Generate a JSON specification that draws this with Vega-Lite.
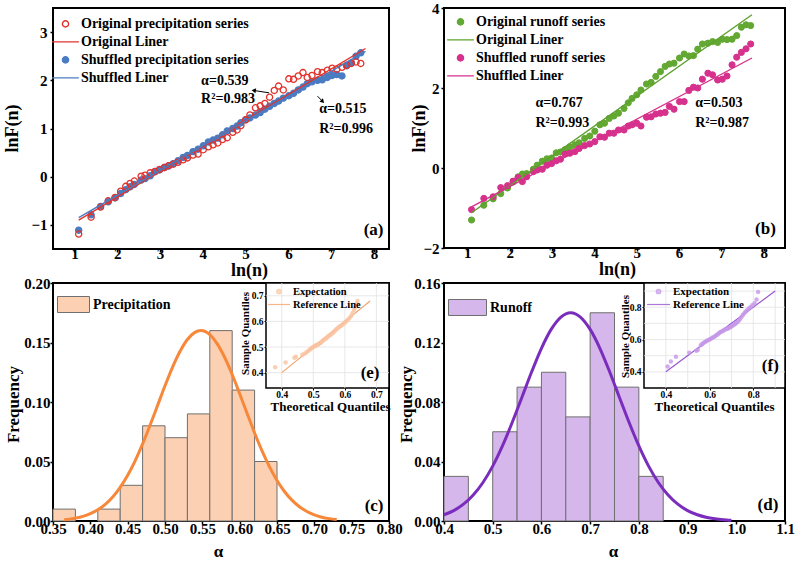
{
  "$schema": "https://vega.github.io/schema/vega-lite/v6.json",
  "background": "white",
  "padding": {"left": 2, "top": 0, "right": 0, "bottom": 0},
  "columns": 2,
  "spacing": {"row": 34, "column": 55},
  "bounds": "flush",
  "resolve": {
    "scale": {"stroke": "independent", "fill": "independent", "shape": "independent", "size": "independent"},
    "legend": {"stroke": "independent", "fill": "independent", "shape": "independent", "size": "independent"}
  },
  "config": {
    "font": "Liberation Serif",
    "view": {"stroke": "black", "strokeWidth": 2},
    "axis": {
      "domain": false, "grid": false,
      "labelFont": "Liberation Serif", "labelFontWeight": "bold", "labelFontSize": 15, "labelColor": "black",
      "labelFlush": false, "labelOverlap": false, "labelPadding": 1,
      "tickColor": "black", "tickWidth": 1.5, "tickSize": 3,
      "titleFont": "Liberation Serif", "titleFontWeight": "bold", "titleFontSize": 18, "titleColor": "black"
    },
    "legend": {"labelFont": "Liberation Serif", "labelFontWeight": "bold", "labelColor": "black", "labelFontSize": 14, "padding": 0, "labelLimit": 0},
    "text": {"font": "Liberation Serif", "fontWeight": "bold", "color": "black"}
  },
  "datasets": {
    "precipSeries": [
      {"series": "Shuffled precipitation series", "lnn": 1.10, "lnF": -1.11},
      {"series": "Shuffled precipitation series", "lnn": 1.39, "lnF": -0.79},
      {"series": "Shuffled precipitation series", "lnn": 1.61, "lnF": -0.62},
      {"series": "Shuffled precipitation series", "lnn": 1.79, "lnF": -0.52},
      {"series": "Shuffled precipitation series", "lnn": 1.95, "lnF": -0.44},
      {"series": "Shuffled precipitation series", "lnn": 2.08, "lnF": -0.35},
      {"series": "Shuffled precipitation series", "lnn": 2.20, "lnF": -0.27},
      {"series": "Shuffled precipitation series", "lnn": 2.30, "lnF": -0.21},
      {"series": "Shuffled precipitation series", "lnn": 2.40, "lnF": -0.16},
      {"series": "Shuffled precipitation series", "lnn": 2.56, "lnF": -0.07},
      {"series": "Shuffled precipitation series", "lnn": 2.65, "lnF": -0.04},
      {"series": "Shuffled precipitation series", "lnn": 2.77, "lnF": 0.02},
      {"series": "Shuffled precipitation series", "lnn": 2.88, "lnF": 0.10},
      {"series": "Shuffled precipitation series", "lnn": 2.99, "lnF": 0.14},
      {"series": "Shuffled precipitation series", "lnn": 3.10, "lnF": 0.19},
      {"series": "Shuffled precipitation series", "lnn": 3.20, "lnF": 0.22},
      {"series": "Shuffled precipitation series", "lnn": 3.31, "lnF": 0.27},
      {"series": "Shuffled precipitation series", "lnn": 3.42, "lnF": 0.33},
      {"series": "Shuffled precipitation series", "lnn": 3.54, "lnF": 0.40},
      {"series": "Shuffled precipitation series", "lnn": 3.64, "lnF": 0.44},
      {"series": "Shuffled precipitation series", "lnn": 3.77, "lnF": 0.52},
      {"series": "Shuffled precipitation series", "lnn": 3.89, "lnF": 0.57},
      {"series": "Shuffled precipitation series", "lnn": 4.01, "lnF": 0.64},
      {"series": "Shuffled precipitation series", "lnn": 4.13, "lnF": 0.72},
      {"series": "Shuffled precipitation series", "lnn": 4.24, "lnF": 0.76},
      {"series": "Shuffled precipitation series", "lnn": 4.35, "lnF": 0.80},
      {"series": "Shuffled precipitation series", "lnn": 4.46, "lnF": 0.87},
      {"series": "Shuffled precipitation series", "lnn": 4.57, "lnF": 0.95},
      {"series": "Shuffled precipitation series", "lnn": 4.70, "lnF": 1.00},
      {"series": "Shuffled precipitation series", "lnn": 4.80, "lnF": 1.05},
      {"series": "Shuffled precipitation series", "lnn": 4.89, "lnF": 1.12},
      {"series": "Shuffled precipitation series", "lnn": 5.00, "lnF": 1.18},
      {"series": "Shuffled precipitation series", "lnn": 5.10, "lnF": 1.22},
      {"series": "Shuffled precipitation series", "lnn": 5.23, "lnF": 1.28},
      {"series": "Shuffled precipitation series", "lnn": 5.34, "lnF": 1.33},
      {"series": "Shuffled precipitation series", "lnn": 5.45, "lnF": 1.40},
      {"series": "Shuffled precipitation series", "lnn": 5.56, "lnF": 1.46},
      {"series": "Shuffled precipitation series", "lnn": 5.67, "lnF": 1.52},
      {"series": "Shuffled precipitation series", "lnn": 5.77, "lnF": 1.57},
      {"series": "Shuffled precipitation series", "lnn": 5.88, "lnF": 1.63},
      {"series": "Shuffled precipitation series", "lnn": 6.01, "lnF": 1.68},
      {"series": "Shuffled precipitation series", "lnn": 6.12, "lnF": 1.73},
      {"series": "Shuffled precipitation series", "lnn": 6.23, "lnF": 1.80},
      {"series": "Shuffled precipitation series", "lnn": 6.34, "lnF": 1.86},
      {"series": "Shuffled precipitation series", "lnn": 6.44, "lnF": 1.93},
      {"series": "Shuffled precipitation series", "lnn": 6.55, "lnF": 1.97},
      {"series": "Shuffled precipitation series", "lnn": 6.68, "lnF": 2.00},
      {"series": "Shuffled precipitation series", "lnn": 6.79, "lnF": 2.01},
      {"series": "Shuffled precipitation series", "lnn": 6.91, "lnF": 2.06},
      {"series": "Shuffled precipitation series", "lnn": 7.02, "lnF": 2.10},
      {"series": "Shuffled precipitation series", "lnn": 7.13, "lnF": 2.12},
      {"series": "Shuffled precipitation series", "lnn": 7.25, "lnF": 2.09},
      {"series": "Shuffled precipitation series", "lnn": 7.36, "lnF": 2.30},
      {"series": "Shuffled precipitation series", "lnn": 7.47, "lnF": 2.36},
      {"series": "Shuffled precipitation series", "lnn": 7.58, "lnF": 2.50},
      {"series": "Shuffled precipitation series", "lnn": 7.69, "lnF": 2.57},
      {"series": "Original precipitation series", "lnn": 1.10, "lnF": -1.19},
      {"series": "Original precipitation series", "lnn": 1.39, "lnF": -0.84},
      {"series": "Original precipitation series", "lnn": 1.61, "lnF": -0.63},
      {"series": "Original precipitation series", "lnn": 1.79, "lnF": -0.50},
      {"series": "Original precipitation series", "lnn": 1.95, "lnF": -0.43},
      {"series": "Original precipitation series", "lnn": 2.08, "lnF": -0.30},
      {"series": "Original precipitation series", "lnn": 2.20, "lnF": -0.20},
      {"series": "Original precipitation series", "lnn": 2.30, "lnF": -0.14},
      {"series": "Original precipitation series", "lnn": 2.40, "lnF": -0.09},
      {"series": "Original precipitation series", "lnn": 2.56, "lnF": 0.01},
      {"series": "Original precipitation series", "lnn": 2.65, "lnF": 0.03},
      {"series": "Original precipitation series", "lnn": 2.77, "lnF": 0.08},
      {"series": "Original precipitation series", "lnn": 2.88, "lnF": 0.11},
      {"series": "Original precipitation series", "lnn": 2.99, "lnF": 0.15},
      {"series": "Original precipitation series", "lnn": 3.10, "lnF": 0.19},
      {"series": "Original precipitation series", "lnn": 3.20, "lnF": 0.23},
      {"series": "Original precipitation series", "lnn": 3.31, "lnF": 0.26},
      {"series": "Original precipitation series", "lnn": 3.42, "lnF": 0.30},
      {"series": "Original precipitation series", "lnn": 3.54, "lnF": 0.35},
      {"series": "Original precipitation series", "lnn": 3.64, "lnF": 0.39},
      {"series": "Original precipitation series", "lnn": 3.77, "lnF": 0.45},
      {"series": "Original precipitation series", "lnn": 3.89, "lnF": 0.47},
      {"series": "Original precipitation series", "lnn": 4.01, "lnF": 0.56},
      {"series": "Original precipitation series", "lnn": 4.13, "lnF": 0.62},
      {"series": "Original precipitation series", "lnn": 4.24, "lnF": 0.66},
      {"series": "Original precipitation series", "lnn": 4.35, "lnF": 0.70},
      {"series": "Original precipitation series", "lnn": 4.46, "lnF": 0.77},
      {"series": "Original precipitation series", "lnn": 4.57, "lnF": 0.81},
      {"series": "Original precipitation series", "lnn": 4.70, "lnF": 0.92},
      {"series": "Original precipitation series", "lnn": 4.80, "lnF": 0.97},
      {"series": "Original precipitation series", "lnn": 4.89, "lnF": 1.06},
      {"series": "Original precipitation series", "lnn": 5.00, "lnF": 1.18},
      {"series": "Original precipitation series", "lnn": 5.10, "lnF": 1.28},
      {"series": "Original precipitation series", "lnn": 5.23, "lnF": 1.43},
      {"series": "Original precipitation series", "lnn": 5.34, "lnF": 1.47},
      {"series": "Original precipitation series", "lnn": 5.45, "lnF": 1.52},
      {"series": "Original precipitation series", "lnn": 5.56, "lnF": 1.65},
      {"series": "Original precipitation series", "lnn": 5.67, "lnF": 1.79},
      {"series": "Original precipitation series", "lnn": 5.77, "lnF": 1.88},
      {"series": "Original precipitation series", "lnn": 5.88, "lnF": 1.80},
      {"series": "Original precipitation series", "lnn": 6.01, "lnF": 2.03},
      {"series": "Original precipitation series", "lnn": 6.12, "lnF": 2.02},
      {"series": "Original precipitation series", "lnn": 6.23, "lnF": 2.09},
      {"series": "Original precipitation series", "lnn": 6.34, "lnF": 2.16},
      {"series": "Original precipitation series", "lnn": 6.44, "lnF": 2.06},
      {"series": "Original precipitation series", "lnn": 6.55, "lnF": 2.10},
      {"series": "Original precipitation series", "lnn": 6.68, "lnF": 2.18},
      {"series": "Original precipitation series", "lnn": 6.79, "lnF": 2.16},
      {"series": "Original precipitation series", "lnn": 6.91, "lnF": 2.21},
      {"series": "Original precipitation series", "lnn": 7.02, "lnF": 2.25},
      {"series": "Original precipitation series", "lnn": 7.13, "lnF": 2.23},
      {"series": "Original precipitation series", "lnn": 7.25, "lnF": 2.27},
      {"series": "Original precipitation series", "lnn": 7.36, "lnF": 2.31},
      {"series": "Original precipitation series", "lnn": 7.47, "lnF": 2.35},
      {"series": "Original precipitation series", "lnn": 7.58, "lnF": 2.38},
      {"series": "Original precipitation series", "lnn": 7.69, "lnF": 2.35}
    ],
    "precipFit": [
      {"series": "Original Liner", "lnn": 1.1, "lnF": -0.90},
      {"series": "Original Liner", "lnn": 7.8, "lnF": 2.66},
      {"series": "Shuffled Liner", "lnn": 1.1, "lnF": -0.85},
      {"series": "Shuffled Liner", "lnn": 7.8, "lnF": 2.60}
    ],
    "runoffSeries": [
      {"series": "Original runoff series", "lnn": 1.10, "lnF": -1.30},
      {"series": "Original runoff series", "lnn": 1.39, "lnF": -0.93},
      {"series": "Original runoff series", "lnn": 1.61, "lnF": -0.77},
      {"series": "Original runoff series", "lnn": 1.79, "lnF": -0.64},
      {"series": "Original runoff series", "lnn": 1.95, "lnF": -0.50},
      {"series": "Original runoff series", "lnn": 2.08, "lnF": -0.35},
      {"series": "Original runoff series", "lnn": 2.20, "lnF": -0.22},
      {"series": "Original runoff series", "lnn": 2.30, "lnF": -0.15},
      {"series": "Original runoff series", "lnn": 2.40, "lnF": -0.14},
      {"series": "Original runoff series", "lnn": 2.56, "lnF": -0.03},
      {"series": "Original runoff series", "lnn": 2.65, "lnF": 0.07},
      {"series": "Original runoff series", "lnn": 2.77, "lnF": 0.17},
      {"series": "Original runoff series", "lnn": 2.88, "lnF": 0.23},
      {"series": "Original runoff series", "lnn": 2.99, "lnF": 0.25},
      {"series": "Original runoff series", "lnn": 3.10, "lnF": 0.38},
      {"series": "Original runoff series", "lnn": 3.20, "lnF": 0.40},
      {"series": "Original runoff series", "lnn": 3.31, "lnF": 0.46},
      {"series": "Original runoff series", "lnn": 3.42, "lnF": 0.53},
      {"series": "Original runoff series", "lnn": 3.54, "lnF": 0.58},
      {"series": "Original runoff series", "lnn": 3.64, "lnF": 0.63},
      {"series": "Original runoff series", "lnn": 3.77, "lnF": 0.74},
      {"series": "Original runoff series", "lnn": 3.89, "lnF": 0.80},
      {"series": "Original runoff series", "lnn": 4.01, "lnF": 0.92},
      {"series": "Original runoff series", "lnn": 4.13, "lnF": 1.08},
      {"series": "Original runoff series", "lnn": 4.24, "lnF": 1.12},
      {"series": "Original runoff series", "lnn": 4.35, "lnF": 1.24},
      {"series": "Original runoff series", "lnn": 4.46, "lnF": 1.30},
      {"series": "Original runoff series", "lnn": 4.57, "lnF": 1.37},
      {"series": "Original runoff series", "lnn": 4.70, "lnF": 1.49},
      {"series": "Original runoff series", "lnn": 4.80, "lnF": 1.63},
      {"series": "Original runoff series", "lnn": 4.89, "lnF": 1.74},
      {"series": "Original runoff series", "lnn": 5.00, "lnF": 1.83},
      {"series": "Original runoff series", "lnn": 5.10, "lnF": 1.95},
      {"series": "Original runoff series", "lnn": 5.23, "lnF": 2.10},
      {"series": "Original runoff series", "lnn": 5.34, "lnF": 2.14},
      {"series": "Original runoff series", "lnn": 5.45, "lnF": 2.29},
      {"series": "Original runoff series", "lnn": 5.56, "lnF": 2.41},
      {"series": "Original runoff series", "lnn": 5.67, "lnF": 2.54},
      {"series": "Original runoff series", "lnn": 5.77, "lnF": 2.60},
      {"series": "Original runoff series", "lnn": 5.88, "lnF": 2.62},
      {"series": "Original runoff series", "lnn": 6.01, "lnF": 2.75},
      {"series": "Original runoff series", "lnn": 6.12, "lnF": 2.85},
      {"series": "Original runoff series", "lnn": 6.23, "lnF": 2.80},
      {"series": "Original runoff series", "lnn": 6.34, "lnF": 2.81},
      {"series": "Original runoff series", "lnn": 6.44, "lnF": 2.97},
      {"series": "Original runoff series", "lnn": 6.55, "lnF": 3.10},
      {"series": "Original runoff series", "lnn": 6.68, "lnF": 3.12},
      {"series": "Original runoff series", "lnn": 6.79, "lnF": 3.16},
      {"series": "Original runoff series", "lnn": 6.91, "lnF": 3.14},
      {"series": "Original runoff series", "lnn": 7.02, "lnF": 3.22},
      {"series": "Original runoff series", "lnn": 7.13, "lnF": 3.21},
      {"series": "Original runoff series", "lnn": 7.25, "lnF": 3.22},
      {"series": "Original runoff series", "lnn": 7.36, "lnF": 3.31},
      {"series": "Original runoff series", "lnn": 7.47, "lnF": 3.52},
      {"series": "Original runoff series", "lnn": 7.58, "lnF": 3.58},
      {"series": "Original runoff series", "lnn": 7.69, "lnF": 3.56},
      {"series": "Shuffled runoff series", "lnn": 1.10, "lnF": -1.04},
      {"series": "Shuffled runoff series", "lnn": 1.39, "lnF": -0.76},
      {"series": "Shuffled runoff series", "lnn": 1.61, "lnF": -0.72},
      {"series": "Shuffled runoff series", "lnn": 1.79, "lnF": -0.49},
      {"series": "Shuffled runoff series", "lnn": 1.95, "lnF": -0.44},
      {"series": "Shuffled runoff series", "lnn": 2.08, "lnF": -0.33},
      {"series": "Shuffled runoff series", "lnn": 2.20, "lnF": -0.24},
      {"series": "Shuffled runoff series", "lnn": 2.30, "lnF": -0.34},
      {"series": "Shuffled runoff series", "lnn": 2.40, "lnF": -0.22},
      {"series": "Shuffled runoff series", "lnn": 2.56, "lnF": -0.09},
      {"series": "Shuffled runoff series", "lnn": 2.65, "lnF": -0.05},
      {"series": "Shuffled runoff series", "lnn": 2.77, "lnF": -0.03},
      {"series": "Shuffled runoff series", "lnn": 2.88, "lnF": 0.07},
      {"series": "Shuffled runoff series", "lnn": 2.99, "lnF": 0.11},
      {"series": "Shuffled runoff series", "lnn": 3.10, "lnF": 0.18},
      {"series": "Shuffled runoff series", "lnn": 3.20, "lnF": 0.22},
      {"series": "Shuffled runoff series", "lnn": 3.31, "lnF": 0.35},
      {"series": "Shuffled runoff series", "lnn": 3.42, "lnF": 0.37},
      {"series": "Shuffled runoff series", "lnn": 3.54, "lnF": 0.41},
      {"series": "Shuffled runoff series", "lnn": 3.64, "lnF": 0.49},
      {"series": "Shuffled runoff series", "lnn": 3.77, "lnF": 0.56},
      {"series": "Shuffled runoff series", "lnn": 3.89, "lnF": 0.60},
      {"series": "Shuffled runoff series", "lnn": 4.01, "lnF": 0.66},
      {"series": "Shuffled runoff series", "lnn": 4.13, "lnF": 0.78},
      {"series": "Shuffled runoff series", "lnn": 4.24, "lnF": 0.77},
      {"series": "Shuffled runoff series", "lnn": 4.35, "lnF": 0.87},
      {"series": "Shuffled runoff series", "lnn": 4.46, "lnF": 0.87},
      {"series": "Shuffled runoff series", "lnn": 4.57, "lnF": 0.95},
      {"series": "Shuffled runoff series", "lnn": 4.70, "lnF": 0.95},
      {"series": "Shuffled runoff series", "lnn": 4.80, "lnF": 1.05},
      {"series": "Shuffled runoff series", "lnn": 4.89, "lnF": 1.08},
      {"series": "Shuffled runoff series", "lnn": 5.00, "lnF": 1.12},
      {"series": "Shuffled runoff series", "lnn": 5.10, "lnF": 1.05},
      {"series": "Shuffled runoff series", "lnn": 5.23, "lnF": 1.27},
      {"series": "Shuffled runoff series", "lnn": 5.34, "lnF": 1.28},
      {"series": "Shuffled runoff series", "lnn": 5.45, "lnF": 1.35},
      {"series": "Shuffled runoff series", "lnn": 5.56, "lnF": 1.37},
      {"series": "Shuffled runoff series", "lnn": 5.67, "lnF": 1.39},
      {"series": "Shuffled runoff series", "lnn": 5.77, "lnF": 1.54},
      {"series": "Shuffled runoff series", "lnn": 5.88, "lnF": 1.47},
      {"series": "Shuffled runoff series", "lnn": 6.01, "lnF": 1.66},
      {"series": "Shuffled runoff series", "lnn": 6.12, "lnF": 1.66},
      {"series": "Shuffled runoff series", "lnn": 6.23, "lnF": 1.94},
      {"series": "Shuffled runoff series", "lnn": 6.34, "lnF": 2.02},
      {"series": "Shuffled runoff series", "lnn": 6.44, "lnF": 2.00},
      {"series": "Shuffled runoff series", "lnn": 6.55, "lnF": 2.22},
      {"series": "Shuffled runoff series", "lnn": 6.68, "lnF": 2.37},
      {"series": "Shuffled runoff series", "lnn": 6.79, "lnF": 2.33},
      {"series": "Shuffled runoff series", "lnn": 6.91, "lnF": 2.20},
      {"series": "Shuffled runoff series", "lnn": 7.02, "lnF": 2.22},
      {"series": "Shuffled runoff series", "lnn": 7.13, "lnF": 2.30},
      {"series": "Shuffled runoff series", "lnn": 7.25, "lnF": 2.58},
      {"series": "Shuffled runoff series", "lnn": 7.36, "lnF": 2.77},
      {"series": "Shuffled runoff series", "lnn": 7.47, "lnF": 2.89},
      {"series": "Shuffled runoff series", "lnn": 7.58, "lnF": 2.98},
      {"series": "Shuffled runoff series", "lnn": 7.69, "lnF": 3.10}
    ],
    "runoffFit": [
      {"series": "Original Liner", "lnn": 1.1, "lnF": -1.12},
      {"series": "Original Liner", "lnn": 7.72, "lnF": 3.83},
      {"series": "Shuffled Liner", "lnn": 1.1, "lnF": -0.97},
      {"series": "Shuffled Liner", "lnn": 7.72, "lnF": 2.75}
    ],
    "precipHist": [
      {"kind": "Precipitation", "lo": 0.35, "hi": 0.38, "freq": 0.01},
      {"kind": "Precipitation", "lo": 0.41, "hi": 0.44, "freq": 0.01},
      {"kind": "Precipitation", "lo": 0.44, "hi": 0.47, "freq": 0.03},
      {"kind": "Precipitation", "lo": 0.47, "hi": 0.50, "freq": 0.08},
      {"kind": "Precipitation", "lo": 0.50, "hi": 0.53, "freq": 0.07},
      {"kind": "Precipitation", "lo": 0.53, "hi": 0.56, "freq": 0.09},
      {"kind": "Precipitation", "lo": 0.56, "hi": 0.59, "freq": 0.16},
      {"kind": "Precipitation", "lo": 0.59, "hi": 0.62, "freq": 0.11},
      {"kind": "Precipitation", "lo": 0.62, "hi": 0.65, "freq": 0.05}
    ],
    "precipCurve": [
      {"a": 0.365, "f": 0.0011}, {"a": 0.38, "f": 0.0024}, {"a": 0.39, "f": 0.0039}, {"a": 0.40, "f": 0.0062},
      {"a": 0.41, "f": 0.0094}, {"a": 0.42, "f": 0.0140}, {"a": 0.43, "f": 0.0202}, {"a": 0.44, "f": 0.0283},
      {"a": 0.45, "f": 0.0384}, {"a": 0.46, "f": 0.0506}, {"a": 0.47, "f": 0.0648}, {"a": 0.48, "f": 0.0805},
      {"a": 0.49, "f": 0.0970}, {"a": 0.50, "f": 0.1136}, {"a": 0.51, "f": 0.1291}, {"a": 0.52, "f": 0.1424},
      {"a": 0.53, "f": 0.1525}, {"a": 0.54, "f": 0.1585}, {"a": 0.548, "f": 0.1600}, {"a": 0.56, "f": 0.1566},
      {"a": 0.57, "f": 0.1489}, {"a": 0.58, "f": 0.1374}, {"a": 0.59, "f": 0.1231}, {"a": 0.60, "f": 0.1070},
      {"a": 0.61, "f": 0.0904}, {"a": 0.62, "f": 0.0740}, {"a": 0.63, "f": 0.0589}, {"a": 0.64, "f": 0.0455},
      {"a": 0.65, "f": 0.0341}, {"a": 0.66, "f": 0.0248}, {"a": 0.67, "f": 0.0175}, {"a": 0.68, "f": 0.0120},
      {"a": 0.69, "f": 0.0080}, {"a": 0.70, "f": 0.0052}, {"a": 0.71, "f": 0.0032}, {"a": 0.72, "f": 0.0020},
      {"a": 0.73, "f": 0.0012}
    ],
    "precipQQ": [
      {"qq": "Expectation", "tq": 0.379, "sq": 0.421}, {"qq": "Expectation", "tq": 0.412, "sq": 0.440},
      {"qq": "Expectation", "tq": 0.440, "sq": 0.458}, {"qq": "Expectation", "tq": 0.445, "sq": 0.462},
      {"qq": "Expectation", "tq": 0.465, "sq": 0.470}, {"qq": "Expectation", "tq": 0.472, "sq": 0.474},
      {"qq": "Expectation", "tq": 0.478, "sq": 0.479}, {"qq": "Expectation", "tq": 0.483, "sq": 0.484},
      {"qq": "Expectation", "tq": 0.488, "sq": 0.489}, {"qq": "Expectation", "tq": 0.492, "sq": 0.493},
      {"qq": "Expectation", "tq": 0.496, "sq": 0.497}, {"qq": "Expectation", "tq": 0.500, "sq": 0.500},
      {"qq": "Expectation", "tq": 0.504, "sq": 0.503}, {"qq": "Expectation", "tq": 0.507, "sq": 0.506},
      {"qq": "Expectation", "tq": 0.511, "sq": 0.508}, {"qq": "Expectation", "tq": 0.515, "sq": 0.510},
      {"qq": "Expectation", "tq": 0.518, "sq": 0.513}, {"qq": "Expectation", "tq": 0.522, "sq": 0.516},
      {"qq": "Expectation", "tq": 0.525, "sq": 0.519}, {"qq": "Expectation", "tq": 0.529, "sq": 0.523},
      {"qq": "Expectation", "tq": 0.532, "sq": 0.527}, {"qq": "Expectation", "tq": 0.536, "sq": 0.530},
      {"qq": "Expectation", "tq": 0.540, "sq": 0.533}, {"qq": "Expectation", "tq": 0.543, "sq": 0.537},
      {"qq": "Expectation", "tq": 0.547, "sq": 0.541}, {"qq": "Expectation", "tq": 0.551, "sq": 0.545},
      {"qq": "Expectation", "tq": 0.555, "sq": 0.548}, {"qq": "Expectation", "tq": 0.558, "sq": 0.552},
      {"qq": "Expectation", "tq": 0.562, "sq": 0.556}, {"qq": "Expectation", "tq": 0.566, "sq": 0.561},
      {"qq": "Expectation", "tq": 0.570, "sq": 0.565}, {"qq": "Expectation", "tq": 0.574, "sq": 0.570},
      {"qq": "Expectation", "tq": 0.578, "sq": 0.574}, {"qq": "Expectation", "tq": 0.582, "sq": 0.578},
      {"qq": "Expectation", "tq": 0.586, "sq": 0.582}, {"qq": "Expectation", "tq": 0.590, "sq": 0.585},
      {"qq": "Expectation", "tq": 0.595, "sq": 0.590}, {"qq": "Expectation", "tq": 0.600, "sq": 0.596},
      {"qq": "Expectation", "tq": 0.604, "sq": 0.600}, {"qq": "Expectation", "tq": 0.609, "sq": 0.606},
      {"qq": "Expectation", "tq": 0.614, "sq": 0.612}, {"qq": "Expectation", "tq": 0.619, "sq": 0.620},
      {"qq": "Expectation", "tq": 0.624, "sq": 0.632}, {"qq": "Expectation", "tq": 0.629, "sq": 0.645},
      {"qq": "Expectation", "tq": 0.633, "sq": 0.655}, {"qq": "Expectation", "tq": 0.638, "sq": 0.668},
      {"qq": "Expectation", "tq": 0.640, "sq": 0.680}
    ],
    "precipRef": [
      {"qq": "Reference Line", "tq": 0.40, "sq": 0.40},
      {"qq": "Reference Line", "tq": 0.68, "sq": 0.68}
    ],
    "runoffHist": [
      {"kind": "Runoff", "lo": 0.40, "hi": 0.45, "freq": 0.03},
      {"kind": "Runoff", "lo": 0.50, "hi": 0.55, "freq": 0.06},
      {"kind": "Runoff", "lo": 0.55, "hi": 0.60, "freq": 0.09},
      {"kind": "Runoff", "lo": 0.60, "hi": 0.65, "freq": 0.10},
      {"kind": "Runoff", "lo": 0.65, "hi": 0.70, "freq": 0.07},
      {"kind": "Runoff", "lo": 0.70, "hi": 0.75, "freq": 0.14},
      {"kind": "Runoff", "lo": 0.75, "hi": 0.80, "freq": 0.09},
      {"kind": "Runoff", "lo": 0.80, "hi": 0.85, "freq": 0.03}
    ],
    "runoffCurve": [
      {"a": 0.40, "f": 0.0042}, {"a": 0.42, "f": 0.0070}, {"a": 0.44, "f": 0.0113}, {"a": 0.46, "f": 0.0175},
      {"a": 0.48, "f": 0.0259}, {"a": 0.50, "f": 0.0369}, {"a": 0.52, "f": 0.0505}, {"a": 0.54, "f": 0.0662},
      {"a": 0.56, "f": 0.0832}, {"a": 0.58, "f": 0.1003}, {"a": 0.60, "f": 0.1161}, {"a": 0.62, "f": 0.1288},
      {"a": 0.64, "f": 0.1371}, {"a": 0.66, "f": 0.1400}, {"a": 0.68, "f": 0.1371}, {"a": 0.70, "f": 0.1288},
      {"a": 0.72, "f": 0.1161}, {"a": 0.74, "f": 0.1003}, {"a": 0.76, "f": 0.0832}, {"a": 0.78, "f": 0.0662},
      {"a": 0.80, "f": 0.0505}, {"a": 0.82, "f": 0.0369}, {"a": 0.84, "f": 0.0259}, {"a": 0.86, "f": 0.0175},
      {"a": 0.88, "f": 0.0113}, {"a": 0.90, "f": 0.0070}, {"a": 0.92, "f": 0.0042}, {"a": 0.94, "f": 0.0024},
      {"a": 0.96, "f": 0.0013}, {"a": 0.98, "f": 0.0007}, {"a": 0.99, "f": 0.0005}
    ],
    "runoffQQ": [
      {"qq": "Expectation", "tq": 0.408, "sq": 0.433}, {"qq": "Expectation", "tq": 0.423, "sq": 0.464},
      {"qq": "Expectation", "tq": 0.446, "sq": 0.494}, {"qq": "Expectation", "tq": 0.507, "sq": 0.519},
      {"qq": "Expectation", "tq": 0.540, "sq": 0.530}, {"qq": "Expectation", "tq": 0.546, "sq": 0.537},
      {"qq": "Expectation", "tq": 0.560, "sq": 0.565}, {"qq": "Expectation", "tq": 0.566, "sq": 0.572},
      {"qq": "Expectation", "tq": 0.572, "sq": 0.578}, {"qq": "Expectation", "tq": 0.578, "sq": 0.584},
      {"qq": "Expectation", "tq": 0.584, "sq": 0.590}, {"qq": "Expectation", "tq": 0.590, "sq": 0.594},
      {"qq": "Expectation", "tq": 0.596, "sq": 0.598}, {"qq": "Expectation", "tq": 0.602, "sq": 0.602},
      {"qq": "Expectation", "tq": 0.608, "sq": 0.606}, {"qq": "Expectation", "tq": 0.614, "sq": 0.612},
      {"qq": "Expectation", "tq": 0.620, "sq": 0.615}, {"qq": "Expectation", "tq": 0.626, "sq": 0.622},
      {"qq": "Expectation", "tq": 0.632, "sq": 0.628}, {"qq": "Expectation", "tq": 0.638, "sq": 0.633},
      {"qq": "Expectation", "tq": 0.644, "sq": 0.640}, {"qq": "Expectation", "tq": 0.650, "sq": 0.646},
      {"qq": "Expectation", "tq": 0.656, "sq": 0.650}, {"qq": "Expectation", "tq": 0.662, "sq": 0.655},
      {"qq": "Expectation", "tq": 0.668, "sq": 0.660}, {"qq": "Expectation", "tq": 0.674, "sq": 0.664},
      {"qq": "Expectation", "tq": 0.680, "sq": 0.667}, {"qq": "Expectation", "tq": 0.686, "sq": 0.670},
      {"qq": "Expectation", "tq": 0.692, "sq": 0.674}, {"qq": "Expectation", "tq": 0.698, "sq": 0.679},
      {"qq": "Expectation", "tq": 0.704, "sq": 0.685}, {"qq": "Expectation", "tq": 0.710, "sq": 0.690},
      {"qq": "Expectation", "tq": 0.716, "sq": 0.696}, {"qq": "Expectation", "tq": 0.722, "sq": 0.703},
      {"qq": "Expectation", "tq": 0.728, "sq": 0.710}, {"qq": "Expectation", "tq": 0.734, "sq": 0.718},
      {"qq": "Expectation", "tq": 0.740, "sq": 0.728}, {"qq": "Expectation", "tq": 0.746, "sq": 0.740},
      {"qq": "Expectation", "tq": 0.752, "sq": 0.752}, {"qq": "Expectation", "tq": 0.758, "sq": 0.762},
      {"qq": "Expectation", "tq": 0.764, "sq": 0.772}, {"qq": "Expectation", "tq": 0.770, "sq": 0.780},
      {"qq": "Expectation", "tq": 0.778, "sq": 0.790}, {"qq": "Expectation", "tq": 0.786, "sq": 0.800},
      {"qq": "Expectation", "tq": 0.795, "sq": 0.812}, {"qq": "Expectation", "tq": 0.806, "sq": 0.825},
      {"qq": "Expectation", "tq": 0.815, "sq": 0.848}, {"qq": "Expectation", "tq": 0.822, "sq": 0.895}
    ],
    "runoffRef": [
      {"qq": "Reference Line", "tq": 0.40, "sq": 0.40},
      {"qq": "Reference Line", "tq": 0.90, "sq": 0.90}
    ],
    "gridE": [{"g": 0.4}, {"g": 0.5}, {"g": 0.6}, {"g": 0.7}],
    "gridF": [{"g": 0.4}, {"g": 0.5}, {"g": 0.6}, {"g": 0.7}, {"g": 0.8}, {"g": 0.9}]
  },
  "concat": [
    {
      "width": 336, "height": 241,
      "layer": [
        {
          "data": {"name": "precipSeries"},
          "mark": {"type": "point", "filled": true, "opacity": 1, "strokeWidth": 1.3},
          "encoding": {
            "x": {"field": "lnn", "type": "quantitative", "scale": {"domain": [0.5, 8.35], "nice": false, "zero": false},
                  "axis": {"orient": "bottom", "values": [1, 2, 3, 4, 5, 6, 7, 8], "title": "ln(n)", "labelPadding": -6, "labelOverlap": false,
                           "titleX": 196, "titleY": 21.5, "titleBaseline": "middle"}},
            "y": {"field": "lnF", "type": "quantitative", "scale": {"domain": [-1.5, 3.5], "nice": false, "zero": false},
                  "axis": {"orient": "left", "values": [-1, 0, 1, 2, 3], "title": "lnF(n)", "labelPadding": 3,
                           "titleX": -41, "titleY": 120, "titleBaseline": "middle"}},
            "stroke": {"field": "series", "type": "nominal",
                       "scale": {"domain": ["Original precipitation series", "Original Liner", "Shuffled precipitation series", "Shuffled Liner"],
                                 "range": ["#e4322b", "#e4322b", "#4a7cc2", "#4a7cc2"]},
                       "legend": {"orient": "none", "legendX": -2, "legendY": 7, "title": null, "labelOffset": 1, "rowPadding": 0, "clipHeight": 17.8, "symbolStrokeWidth": 1.4}},
            "fill": {"field": "series", "type": "nominal",
                     "scale": {"domain": ["Original precipitation series", "Original Liner", "Shuffled precipitation series", "Shuffled Liner"],
                               "range": ["transparent", "transparent", "#4a7cc2", "transparent"]},
                     "legend": {"orient": "none", "legendX": -2, "legendY": 7, "title": null, "labelOffset": 1, "rowPadding": 0, "clipHeight": 17.8, "symbolStrokeWidth": 1.4}},
            "shape": {"field": "series", "type": "nominal",
                      "scale": {"domain": ["Original precipitation series", "Original Liner", "Shuffled precipitation series", "Shuffled Liner"],
                                "range": ["circle", "stroke", "circle", "stroke"]},
                      "legend": {"orient": "none", "legendX": -2, "legendY": 7, "title": null, "labelOffset": 1, "rowPadding": 0, "clipHeight": 17.8, "symbolStrokeWidth": 1.4}},
            "size": {"field": "series", "type": "nominal",
                     "scale": {"type": "ordinal", "domain": ["Original precipitation series", "Original Liner", "Shuffled precipitation series", "Shuffled Liner"],
                               "range": [38, 713, 38, 713]},
                     "legend": {"orient": "none", "legendX": -2, "legendY": 7, "title": null, "labelOffset": 1, "rowPadding": 0, "clipHeight": 17.8, "symbolStrokeWidth": 1.4}}
          }
        },
        {
          "data": {"name": "precipFit"},
          "mark": {"type": "line", "strokeWidth": 1.4},
          "encoding": {
            "x": {"field": "lnn", "type": "quantitative"},
            "y": {"field": "lnF", "type": "quantitative"},
            "stroke": {"field": "series", "type": "nominal",
                       "legend": {"orient": "none", "legendX": -2, "legendY": 7, "title": null, "labelOffset": 1, "rowPadding": 0, "clipHeight": 17.8, "symbolStrokeWidth": 1.4}}
          }
        },
        {"data": {"values": [{}]}, "mark": {"type": "text", "text": "α=0.539", "align": "left", "baseline": "middle", "fontSize": 14},
         "encoding": {"x": {"datum": 3.96}, "y": {"datum": 1.99}}},
        {"data": {"values": [{}]}, "mark": {"type": "text", "text": "R²=0.983", "align": "left", "baseline": "middle", "fontSize": 14},
         "encoding": {"x": {"datum": 3.96}, "y": {"datum": 1.61}}},
        {"data": {"values": [{}]}, "mark": {"type": "text", "text": "α=0.515", "align": "left", "baseline": "middle", "fontSize": 14},
         "encoding": {"x": {"datum": 6.72}, "y": {"datum": 1.40}}},
        {"data": {"values": [{}]}, "mark": {"type": "text", "text": "R²=0.996", "align": "left", "baseline": "middle", "fontSize": 14},
         "encoding": {"x": {"datum": 6.72}, "y": {"datum": 1.00}}},
        {"data": {"values": [{}]}, "mark": {"type": "rule", "color": "black", "strokeWidth": 1},
         "encoding": {"x": {"datum": 5.55}, "y": {"datum": 1.74}, "x2": {"datum": 5.22}, "y2": {"datum": 1.785}}},
        {"data": {"values": [{}]}, "mark": {"type": "point", "shape": "triangle-up", "angle": 278, "filled": true, "color": "black", "opacity": 1, "size": 24},
         "encoding": {"x": {"datum": 5.19}, "y": {"datum": 1.79}}},
        {"data": {"values": [{}]}, "mark": {"type": "rule", "color": "black", "strokeWidth": 1},
         "encoding": {"x": {"datum": 6.68}, "y": {"datum": 1.67}, "x2": {"datum": 6.78}, "y2": {"datum": 1.58}}},
        {"data": {"values": [{}]}, "mark": {"type": "point", "shape": "triangle-up", "angle": 136, "filled": true, "color": "black", "opacity": 1, "size": 24},
         "encoding": {"x": {"datum": 6.80}, "y": {"datum": 1.56}}},
        {"data": {"values": [{}]}, "mark": {"type": "text", "text": "(a)", "align": "center", "baseline": "middle", "fontSize": 17},
         "encoding": {"x": {"datum": 7.99}, "y": {"datum": -1.1}}}
      ]
    },
    {
      "width": 341, "height": 240,
      "layer": [
        {
          "data": {"name": "runoffSeries"},
          "mark": {"type": "point", "filled": true, "opacity": 1, "strokeWidth": 1},
          "encoding": {
            "x": {"field": "lnn", "type": "quantitative", "scale": {"domain": [0.45, 8.5], "nice": false, "zero": false},
                  "axis": {"orient": "bottom", "values": [1, 2, 3, 4, 5, 6, 7, 8], "title": "ln(n)", "labelPadding": -6, "labelOverlap": false,
                           "titleX": 173, "titleY": 21.5, "titleBaseline": "middle"}},
            "y": {"field": "lnF", "type": "quantitative", "scale": {"domain": [-2, 4], "nice": false, "zero": false},
                  "axis": {"orient": "left", "values": [-2, -1, 0, 1, 2, 3, 4], "title": "lnF(n)", "labelPadding": 2,
                           "titleX": -25, "titleY": 120, "titleBaseline": "middle"}},
            "stroke": {"field": "series", "type": "nominal",
                       "scale": {"domain": ["Original runoff series", "Original Liner", "Shuffled runoff series", "Shuffled Liner"],
                                 "range": ["#62a832", "#5ea02e", "#d6318c", "#d6318c"]},
                       "legend": {"orient": "none", "legendX": 2, "legendY": 5, "title": null, "labelOffset": 1, "rowPadding": 0, "clipHeight": 17.8, "symbolStrokeWidth": 1.4}},
            "fill": {"field": "series", "type": "nominal",
                     "scale": {"domain": ["Original runoff series", "Original Liner", "Shuffled runoff series", "Shuffled Liner"],
                               "range": ["#62a832", "transparent", "#d6318c", "transparent"]},
                     "legend": {"orient": "none", "legendX": 2, "legendY": 5, "title": null, "labelOffset": 1, "rowPadding": 0, "clipHeight": 17.8, "symbolStrokeWidth": 1.4}},
            "shape": {"field": "series", "type": "nominal",
                      "scale": {"domain": ["Original runoff series", "Original Liner", "Shuffled runoff series", "Shuffled Liner"],
                                "range": ["circle", "stroke", "circle", "stroke"]},
                      "legend": {"orient": "none", "legendX": 2, "legendY": 5, "title": null, "labelOffset": 1, "rowPadding": 0, "clipHeight": 17.8, "symbolStrokeWidth": 1.4}},
            "size": {"field": "series", "type": "nominal",
                     "scale": {"type": "ordinal", "domain": ["Original runoff series", "Original Liner", "Shuffled runoff series", "Shuffled Liner"],
                               "range": [38, 713, 38, 713]},
                     "legend": {"orient": "none", "legendX": 2, "legendY": 5, "title": null, "labelOffset": 1, "rowPadding": 0, "clipHeight": 17.8, "symbolStrokeWidth": 1.4}}
          }
        },
        {
          "data": {"name": "runoffFit"},
          "mark": {"type": "line", "strokeWidth": 1.4},
          "encoding": {
            "x": {"field": "lnn", "type": "quantitative"},
            "y": {"field": "lnF", "type": "quantitative"},
            "stroke": {"field": "series", "type": "nominal",
                       "legend": {"orient": "none", "legendX": 2, "legendY": 5, "title": null, "labelOffset": 1, "rowPadding": 0, "clipHeight": 17.8, "symbolStrokeWidth": 1.4}}
          }
        },
        {"data": {"values": [{}]}, "mark": {"type": "text", "text": "α=0.767", "align": "left", "baseline": "middle", "fontSize": 14},
         "encoding": {"x": {"datum": 2.61}, "y": {"datum": 1.62}}},
        {"data": {"values": [{}]}, "mark": {"type": "text", "text": "R²=0.993", "align": "left", "baseline": "middle", "fontSize": 14},
         "encoding": {"x": {"datum": 2.61}, "y": {"datum": 1.12}}},
        {"data": {"values": [{}]}, "mark": {"type": "text", "text": "α=0.503", "align": "left", "baseline": "middle", "fontSize": 14},
         "encoding": {"x": {"datum": 6.38}, "y": {"datum": 1.62}}},
        {"data": {"values": [{}]}, "mark": {"type": "text", "text": "R²=0.987", "align": "left", "baseline": "middle", "fontSize": 14},
         "encoding": {"x": {"datum": 6.38}, "y": {"datum": 1.12}}},
        {"data": {"values": [{}]}, "mark": {"type": "text", "text": "(b)", "align": "center", "baseline": "middle", "fontSize": 17},
         "encoding": {"x": {"datum": 8.04}, "y": {"datum": -1.53}}}
      ]
    },
    {
      "width": 336, "height": 238,
      "resolve": {
        "scale": {"x": "independent", "y": "independent", "fill": "independent", "stroke": "independent", "shape": "independent", "size": "independent"},
        "axis": {"x": "independent", "y": "independent"},
        "legend": {"fill": "independent", "stroke": "independent", "shape": "independent", "size": "independent"}
      },
      "layer": [
        {
          "layer": [
            {
              "data": {"name": "precipHist"},
              "mark": {"type": "rect", "stroke": "#6f6f6f", "strokeWidth": 1, "opacity": 1},
              "encoding": {
                "x": {"field": "lo", "type": "quantitative", "scale": {"domain": [0.35, 0.8], "nice": false, "zero": false},
                      "axis": {"orient": "bottom", "values": [0.35, 0.45, 0.55, 0.65, 0.75], "format": ".2f", "labelOverlap": false,
                               "title": "α", "titleFontSize": 17, "labelPadding": -3, "titleX": 165, "titleY": 30, "titleBaseline": "middle"}},
                "x2": {"field": "hi"},
                "y": {"field": "freq", "type": "quantitative", "scale": {"domain": [0, 0.2], "nice": false},
                      "axis": {"orient": "left", "values": [0, 0.05, 0.1, 0.15, 0.2], "format": ".2f", "title": "Frequency",
                               "titleFontSize": 17, "labelPadding": 0, "titleX": -39.5, "titleY": 121, "titleBaseline": "middle"}},
                "y2": {"datum": 0},
                "fill": {"field": "kind", "type": "nominal", "scale": {"range": ["#fcd0b2"]},
                         "legend": {"orient": "none", "legendX": 4, "legendY": 5, "title": null, "symbolType": "M-1,-0.5H1V0.5H-1Z",
                                    "symbolSize": 1024, "symbolStrokeColor": "#6f6f6f", "symbolStrokeWidth": 1, "labelOffset": 3, "labelFontSize": 14}}
              }
            },
            {"data": {"values": [{}]}, "mark": {"type": "text", "text": "(c)", "align": "center", "baseline": "middle", "fontSize": 17},
             "encoding": {"x": {"datum": 0.78}, "y": {"datum": 0.0126}}}
          ]
        },
        {
          "data": {"name": "precipCurve"},
          "mark": {"type": "line", "color": "#f7883a", "strokeWidth": 3, "interpolate": "monotone"},
          "encoding": {
            "x": {"field": "a", "type": "quantitative", "scale": {"domain": [0.35, 0.8], "nice": false, "zero": false},
                  "axis": {"orient": "bottom", "values": [0.4, 0.5, 0.6, 0.7, 0.8], "format": ".2f", "labelOverlap": false,
                           "title": null, "labelPadding": -3}},
            "y": {"field": "f", "type": "quantitative", "scale": {"domain": [0, 0.2], "nice": false}, "axis": null}
          }
        },
        {
          "layer": [
            {
              "data": {"values": [{}]},
              "mark": {"type": "rect", "fill": "white", "stroke": "black", "strokeWidth": 1.5},
              "encoding": {
                "x": {"datum": 0.35, "type": "quantitative", "scale": {"domain": [0.35, 0.74], "range": [213, 336], "nice": false, "zero": false},
                      "axis": {"orient": "bottom", "offset": -133, "values": [0.4, 0.5, 0.6, 0.7], "format": ".1f", "title": "Theoretical Quantiles",
                               "titleFontSize": 13, "labelFontSize": 9.5, "labelPadding": -1, "tickSize": 2, "tickWidth": 1,
                               "titleX": 277, "titleY": 18, "titleBaseline": "middle"}},
                "x2": {"datum": 0.74},
                "y": {"datum": 0.34, "type": "quantitative", "scale": {"domain": [0.34, 0.75], "range": [105, 0], "nice": false, "zero": false},
                      "axis": {"orient": "left", "offset": -213, "values": [0.4, 0.5, 0.6, 0.7], "format": ".1f", "title": "Sample Quantiles",
                               "titleFontSize": 11, "labelFontSize": 9.5, "labelPadding": 1, "tickSize": 2, "tickWidth": 1,
                               "titleX": -21, "titleY": 50, "titleBaseline": "middle"}},
                "y2": {"datum": 0.75}
              }
            },
            {
              "data": {"name": "gridE"},
              "mark": {"type": "rule", "color": "#e2e2e2", "strokeWidth": 0.8},
              "encoding": {"x": {"field": "g", "type": "quantitative"}, "y": {"datum": 0.34}, "y2": {"datum": 0.75}}
            },
            {
              "data": {"name": "gridE"},
              "mark": {"type": "rule", "color": "#e2e2e2", "strokeWidth": 0.8},
              "encoding": {"y": {"field": "g", "type": "quantitative"}, "x": {"datum": 0.35}, "x2": {"datum": 0.74}}
            },
            {
              "data": {"name": "precipRef"},
              "mark": {"type": "line", "strokeWidth": 1.2},
              "encoding": {
                "x": {"field": "tq", "type": "quantitative"},
                "y": {"field": "sq", "type": "quantitative"},
                "stroke": {"field": "qq", "type": "nominal",
                           "legend": {"orient": "none", "legendX": 214, "legendY": 2, "title": null, "labelFontSize": 10.5, "labelOffset": 2, "rowPadding": 0, "clipHeight": 13, "symbolStrokeWidth": 1.2}}
              }
            },
            {
              "data": {"name": "precipQQ"},
              "mark": {"type": "point", "filled": true, "opacity": 0.8, "strokeWidth": 0},
              "encoding": {
                "x": {"field": "tq", "type": "quantitative"},
                "y": {"field": "sq", "type": "quantitative"},
                "stroke": {"field": "qq", "type": "nominal", "scale": {"domain": ["Expectation", "Reference Line"], "range": ["#fac3a0", "#f6a46c"]},
                           "legend": {"orient": "none", "legendX": 214, "legendY": 2, "title": null, "labelFontSize": 10.5, "labelOffset": 2, "rowPadding": 0, "clipHeight": 13, "symbolStrokeWidth": 1.2}},
                "fill": {"field": "qq", "type": "nominal", "scale": {"domain": ["Expectation", "Reference Line"], "range": ["#fac3a0", "transparent"]},
                         "legend": {"orient": "none", "legendX": 214, "legendY": 2, "title": null, "labelFontSize": 10.5, "labelOffset": 2, "rowPadding": 0, "clipHeight": 13, "symbolStrokeWidth": 1.2}},
                "shape": {"field": "qq", "type": "nominal", "scale": {"domain": ["Expectation", "Reference Line"], "range": ["circle", "stroke"]},
                          "legend": {"orient": "none", "legendX": 214, "legendY": 2, "title": null, "labelFontSize": 10.5, "labelOffset": 2, "rowPadding": 0, "clipHeight": 13, "symbolStrokeWidth": 1.2}},
                "size": {"field": "qq", "type": "nominal", "scale": {"type": "ordinal", "domain": ["Expectation", "Reference Line"], "range": [20, 484]},
                         "legend": {"orient": "none", "legendX": 214, "legendY": 2, "title": null, "labelFontSize": 10.5, "labelOffset": 2, "rowPadding": 0, "clipHeight": 13, "symbolStrokeWidth": 1.2}}
              }
            },
            {"data": {"values": [{}]}, "mark": {"type": "text", "text": "(e)", "align": "center", "baseline": "middle", "fontSize": 17},
             "encoding": {"x": {"datum": 0.68}, "y": {"datum": 0.40}}}
          ]
        }
      ]
    },
    {
      "width": 341, "height": 238,
      "resolve": {
        "scale": {"x": "independent", "y": "independent", "fill": "independent", "stroke": "independent", "shape": "independent", "size": "independent"},
        "axis": {"x": "independent", "y": "independent"},
        "legend": {"fill": "independent", "stroke": "independent", "shape": "independent", "size": "independent"}
      },
      "layer": [
        {
          "layer": [
            {
              "data": {"name": "runoffHist"},
              "mark": {"type": "rect", "stroke": "#6f6f6f", "strokeWidth": 1, "opacity": 1},
              "encoding": {
                "x": {"field": "lo", "type": "quantitative", "scale": {"domain": [0.4, 1.1], "nice": false, "zero": false},
                      "axis": {"orient": "bottom", "values": [0.4, 0.5, 0.6, 0.7, 0.8, 0.9, 1.0, 1.1], "format": ".1f", "labelOverlap": false,
                               "title": "α", "titleFontSize": 17, "labelPadding": -3, "titleX": 169, "titleY": 30, "titleBaseline": "middle"}},
                "x2": {"field": "hi"},
                "y": {"field": "freq", "type": "quantitative", "scale": {"domain": [0, 0.16], "nice": false},
                      "axis": {"orient": "left", "values": [0, 0.02, 0.04, 0.06, 0.08, 0.1, 0.12, 0.14, 0.16], "format": ".2f", "title": "Frequency",
                               "titleFontSize": 17, "labelPadding": 1, "titleX": -38, "titleY": 121, "titleBaseline": "middle"}},
                "y2": {"datum": 0},
                "fill": {"field": "kind", "type": "nominal", "scale": {"range": ["#d6b7ec"]},
                         "legend": {"orient": "none", "legendX": 4, "legendY": 5, "title": null, "symbolType": "M-1,-0.42H1V0.42H-1Z",
                                    "symbolSize": 1444, "symbolStrokeColor": "#6f6f6f", "symbolStrokeWidth": 1, "labelOffset": 3, "labelFontSize": 14}}
              }
            },
            {
              "data": {"name": "runoffCurve"},
              "mark": {"type": "line", "color": "#7a2dbd", "strokeWidth": 3, "interpolate": "monotone"},
              "encoding": {
                "x": {"field": "a", "type": "quantitative"},
                "y": {"field": "f", "type": "quantitative"}
              }
            },
            {"data": {"values": [{}]}, "mark": {"type": "text", "text": "(d)", "align": "center", "baseline": "middle", "fontSize": 17},
             "encoding": {"x": {"datum": 1.065}, "y": {"datum": 0.0106}}}
          ]
        },
        {
          "layer": [
            {
              "data": {"values": [{}]},
              "mark": {"type": "rect", "fill": "white", "stroke": "black", "strokeWidth": 1.5},
              "encoding": {
                "x": {"datum": 0.3, "type": "quantitative", "scale": {"domain": [0.3, 0.945], "range": [200, 341], "nice": false, "zero": false},
                      "axis": {"orient": "bottom", "offset": -133, "values": [0.4, 0.6, 0.8], "format": ".1f", "title": "Theoretical Quantiles",
                               "titleFontSize": 13, "labelFontSize": 9.5, "labelPadding": -1, "tickSize": 2, "tickWidth": 1,
                               "titleX": 270, "titleY": 18, "titleBaseline": "middle"}},
                "x2": {"datum": 0.945},
                "y": {"datum": 0.3, "type": "quantitative", "scale": {"domain": [0.3, 0.95], "range": [105, 0], "nice": false, "zero": false},
                      "axis": {"orient": "left", "offset": -200, "values": [0.4, 0.6, 0.8], "format": ".1f", "title": "Sample Quantiles",
                               "titleFontSize": 11, "labelFontSize": 9.5, "labelPadding": 1, "tickSize": 2, "tickWidth": 1,
                               "titleX": -19, "titleY": 53, "titleBaseline": "middle"}},
                "y2": {"datum": 0.95}
              }
            },
            {
              "data": {"name": "gridF"},
              "mark": {"type": "rule", "color": "#e2e2e2", "strokeWidth": 0.8},
              "encoding": {"x": {"field": "g", "type": "quantitative"}, "y": {"datum": 0.3}, "y2": {"datum": 0.95}}
            },
            {
              "data": {"name": "gridF"},
              "mark": {"type": "rule", "color": "#e2e2e2", "strokeWidth": 0.8},
              "encoding": {"y": {"field": "g", "type": "quantitative"}, "x": {"datum": 0.3}, "x2": {"datum": 0.945}}
            },
            {
              "data": {"name": "runoffRef"},
              "mark": {"type": "line", "strokeWidth": 1.2},
              "encoding": {
                "x": {"field": "tq", "type": "quantitative"},
                "y": {"field": "sq", "type": "quantitative"},
                "stroke": {"field": "qq", "type": "nominal",
                           "legend": {"orient": "none", "legendX": 202, "legendY": 2, "title": null, "labelFontSize": 11, "labelOffset": 2, "rowPadding": 0, "clipHeight": 13, "symbolStrokeWidth": 1.2}}
              }
            },
            {
              "data": {"name": "runoffQQ"},
              "mark": {"type": "point", "filled": true, "opacity": 0.8, "strokeWidth": 0},
              "encoding": {
                "x": {"field": "tq", "type": "quantitative"},
                "y": {"field": "sq", "type": "quantitative"},
                "stroke": {"field": "qq", "type": "nominal", "scale": {"domain": ["Expectation", "Reference Line"], "range": ["#c597e8", "#9a56d2"]},
                           "legend": {"orient": "none", "legendX": 202, "legendY": 2, "title": null, "labelFontSize": 11, "labelOffset": 2, "rowPadding": 0, "clipHeight": 13, "symbolStrokeWidth": 1.2}},
                "fill": {"field": "qq", "type": "nominal", "scale": {"domain": ["Expectation", "Reference Line"], "range": ["#c597e8", "transparent"]},
                         "legend": {"orient": "none", "legendX": 202, "legendY": 2, "title": null, "labelFontSize": 11, "labelOffset": 2, "rowPadding": 0, "clipHeight": 13, "symbolStrokeWidth": 1.2}},
                "shape": {"field": "qq", "type": "nominal", "scale": {"domain": ["Expectation", "Reference Line"], "range": ["circle", "stroke"]},
                          "legend": {"orient": "none", "legendX": 202, "legendY": 2, "title": null, "labelFontSize": 11, "labelOffset": 2, "rowPadding": 0, "clipHeight": 13, "symbolStrokeWidth": 1.2}},
                "size": {"field": "qq", "type": "nominal", "scale": {"type": "ordinal", "domain": ["Expectation", "Reference Line"], "range": [20, 529]},
                         "legend": {"orient": "none", "legendX": 202, "legendY": 2, "title": null, "labelFontSize": 11, "labelOffset": 2, "rowPadding": 0, "clipHeight": 13, "symbolStrokeWidth": 1.2}}
              }
            },
            {"data": {"values": [{}]}, "mark": {"type": "text", "text": "(f)", "align": "center", "baseline": "middle", "fontSize": 17},
             "encoding": {"x": {"datum": 0.878}, "y": {"datum": 0.4375}}}
          ]
        }
      ]
    }
  ]
}
